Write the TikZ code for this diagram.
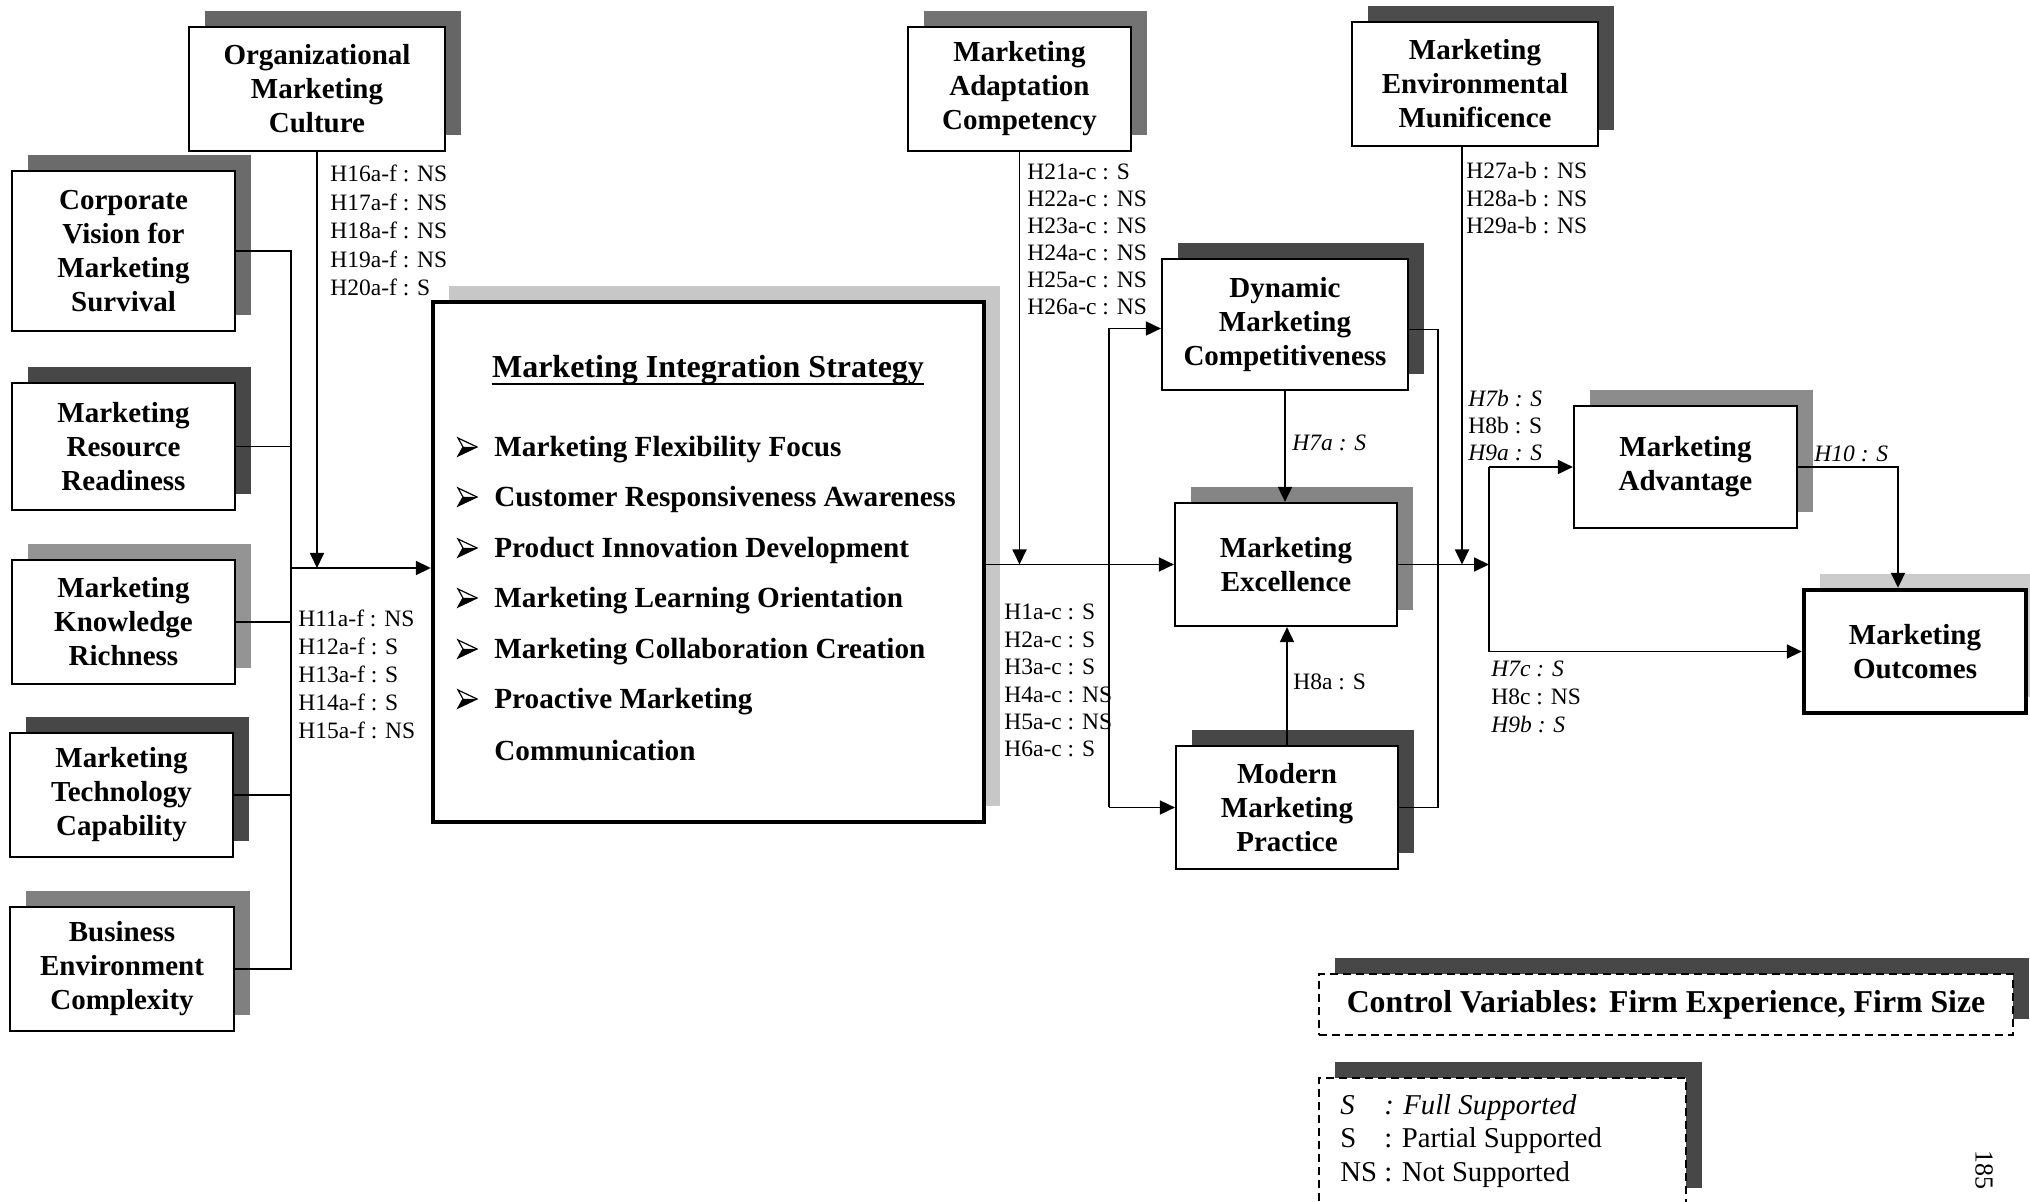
\documentclass[tikz,border=0pt]{standalone}
\usepackage{fontspec}
\setmainfont{Liberation Serif}
\usetikzlibrary{arrows.meta}

\tikzset{
  box/.style={draw, line width=1.1pt, fill=white, align=center, inner sep=0pt,
    font=\bfseries\fontsize{14.5}{17}\selectfont},
  heavy/.style={line width=2.2pt},
  ctl/.style={dashed, dash pattern=on 4pt off 2.5pt, line width=1pt,
    font=\bfseries\fontsize{15.9}{18}\selectfont},
  conn/.style={line width=0.9pt},
  arr/.style={conn, -{Triangle[length=7.5pt,width=7pt]}},
  hyp/.style={anchor=north west, inner sep=0pt, align=left,
    font=\fontsize{11.75}{#1}\selectfont},
  hyp/.default=13.8pt,
  lbl/.style={anchor=base west, inner sep=0pt, font=\fontsize{11.75}{14}\selectfont},
  item/.style={anchor=base west, inner sep=0pt, font=\bfseries\fontsize{14.6}{17}\selectfont},
  pics/bullet/.style={code={
    \draw[line width=0.6pt, line join=miter] (0,-9) -- (19,0) -- (0,9) -- (5,0) -- cycle;
    \fill (5,0) -- (19,0) -- (0,9) -- cycle;}}
}

% shadowed box: [extra style]{name}{x1}{y1}{x2}{y2}{shadow colour}{text}
\newcommand\shbox[8][]{%
  \fill[#7] ({#3+16},{#4-16}) rectangle ({#5+16},{#6-16});
  \node[box,#1,minimum width={(#5-#3)*0.5pt},minimum height={(#6-#4)*0.5pt}]
    (#2) at ({(#3+#5)/2},{(#4+#6)/2}) {#8};
}

\begin{document}
\begin{tikzpicture}[x=0.5pt,y=-0.5pt]
\useasboundingbox[fill=white] (0,0) rectangle (2030,1202);

% antecedents
\shbox{omc}{189}{27}{445}{151}{black!60}{Organizational\\Marketing\\Culture}
\shbox{cv}{12}{171}{235}{331}{black!58}{Corporate\\Vision for\\Marketing\\Survival}
\shbox{mrr}{12}{383}{235}{510}{black!72}{Marketing\\Resource\\Readiness}
\shbox{mkr}{12}{560}{235}{684}{black!42}{Marketing\\Knowledge\\Richness}
\shbox{mtc}{10}{733}{233}{857}{black!72}{Marketing\\Technology\\Capability}
\shbox{bec}{10}{907}{234}{1031}{black!50}{Business\\Environment\\Complexity}

% central strategy box
\shbox[heavy]{mis}{433}{302}{984}{822}{black!22}{}
\node[anchor=base, inner sep=0pt, font=\bfseries\fontsize{16}{19}\selectfont]
  (ttl) at (708,378) {Marketing Integration Strategy};
\draw[line width=1.4pt] ([yshift=-3pt]ttl.base west) -- ([yshift=-3pt]ttl.base east);
\foreach \t/\c [count=\i] in {
  {Marketing Flexibility Focus}/447,
  {Customer Responsiveness Awareness}/497,
  {Product Innovation Development}/548,
  {Marketing Learning Orientation}/598,
  {Marketing Collaboration Creation}/649,
  {Proactive Marketing}/699}{
  \pic at (458,\c) {bullet};
  \node[item] (it\i) at (494,\c+10) {\t};
}
\node[item] (it7) at (494,761) {Communication};

% moderators and consequences
\shbox{mac}{908}{27}{1131}{151}{black!55}{Marketing\\Adaptation\\Competency}
\shbox{mem}{1352}{22}{1598}{146}{black!70}{Marketing\\Environmental\\Munificence}
\shbox{dmc}{1162}{259}{1408}{390}{black!72}{Dynamic\\Marketing\\Competitiveness}
\shbox{me}{1175}{503}{1397}{626}{black!48}{Marketing\\Excellence}
\shbox{mmp}{1176}{746}{1398}{869}{black!72}{Modern\\Marketing\\Practice}
\shbox{ma}{1574}{406}{1797}{528}{black!45}{Marketing\\Advantage}
\shbox[heavy]{mo}{1804}{590}{2026}{713}{black!20}{Marketing\\Outcomes}

% control variables and key
\shbox[ctl]{ctlbox}{1319}{974}{2013}{1035}{black!72}{Control Variables: Firm Experience, Firm Size}
\shbox[ctl]{leg}{1319}{1078}{1686}{1204}{black!72}{}
\node[anchor=base west, inner sep=0pt, font=\fontsize{14.35}{16.75}\selectfont]
  (legtxt) at (1340,1114) {\begin{tabular}[t]{@{}l@{}l@{}}
  \textit{S} & \textit{\ : Full Supported}\\
  S & \ : Partial Supported\\
  NS & \ : Not Supported
  \end{tabular}};
\node[rotate=-90, inner sep=0pt, font=\fontsize{13}{15}\selectfont] (pg) at (1984,1170) {185};

% left bus into the strategy box
\coordinate (jL) at (291,568);
\draw[conn] (cv.east) -| (bec.east -| jL) -- (bec.east);
\foreach \b in {mrr,mkr,mtc} \draw[conn] (\b.east) -- (\b.east -| jL);
\draw[arr] (jL) -- (jL -| mis.west);
\draw[arr] (omc) -- (omc |- jL);

% strategy box to the three outcome boxes
\coordinate (jB) at (1109,565);
\coordinate (dIn) at ([yshift=-2pt]dmc.west);
\coordinate (dOut) at ([yshift=-2.5pt]dmc.east);
\draw[arr] (mis.east |- me.west) -- (me.west);
\draw[arr] (mac) -- (mac |- me.west);
\draw[conn] (dIn -| jB) -- (mmp.west -| jB);
\draw[arr] (dIn -| jB) -- (dIn);
\draw[arr] (mmp.west -| jB) -- (mmp.west);
\draw[arr] (dmc) -- (dmc |- me.north);
\draw[arr] (mmp) -- (mmp |- me.south);
\coordinate (jR) at (1438,0);
\draw[conn] (dOut) -- (dOut -| jR) -- (mmp.east -| jR) -- (mmp.east);

% towards advantage and outcomes
\coordinate (jX) at (1489,0);
\coordinate (memOut) at ([xshift=-6.5pt]mem.south);
\draw[arr] (me.east) -- (me.east -| jX);
\draw[arr] (memOut) -- (memOut |- me.east);
\draw[arr] (ma.west -| jX) -- (ma.west);
\draw[arr] (ma.west -| jX) |- (mo.west);
\coordinate (moIn) at ([xshift=-8.5pt]mo.north);
\draw[arr] (ma.east) -| (moIn);

% hypothesis labels
\node[hyp=14.25pt] (h16) at (330,165) {H16a-f : NS\\H17a-f : NS\\H18a-f : NS\\H19a-f : NS\\H20a-f : S};
\node[hyp=14pt] (h11) at (298,610) {H11a-f : NS\\H12a-f : S\\H13a-f : S\\H14a-f : S\\H15a-f : NS};
\node[hyp=13.5pt] (h21) at (1027,164) {H21a-c : S\\H22a-c : NS\\H23a-c : NS\\H24a-c : NS\\H25a-c : NS\\H26a-c : NS};
\node[hyp=13.7pt] (h1) at (1004,604) {H1a-c : S\\H2a-c : S\\H3a-c : S\\H4a-c : NS\\H5a-c : NS\\H6a-c : S};
\node[hyp=13.75pt] (h27) at (1466,162) {H27a-b : NS\\H28a-b : NS\\H29a-b : NS};
\node[hyp=13.5pt] (h7b) at (1468,390) {\textit{H7b : S}\\H8b : S\\\textit{H9a : S}};
\node[hyp=14pt] (h7c) at (1491,661) {\textit{H7c : S}\\H8c : NS\\\textit{H9b : S}};
\node[lbl] (h7a) at (1292,451) {\textit{H7a : S}};
\node[lbl] (h8a) at (1293,690) {H8a : S};
\node[lbl] (h10) at (1814,462) {\textit{H10 : S}};
\end{tikzpicture}
\end{document}
